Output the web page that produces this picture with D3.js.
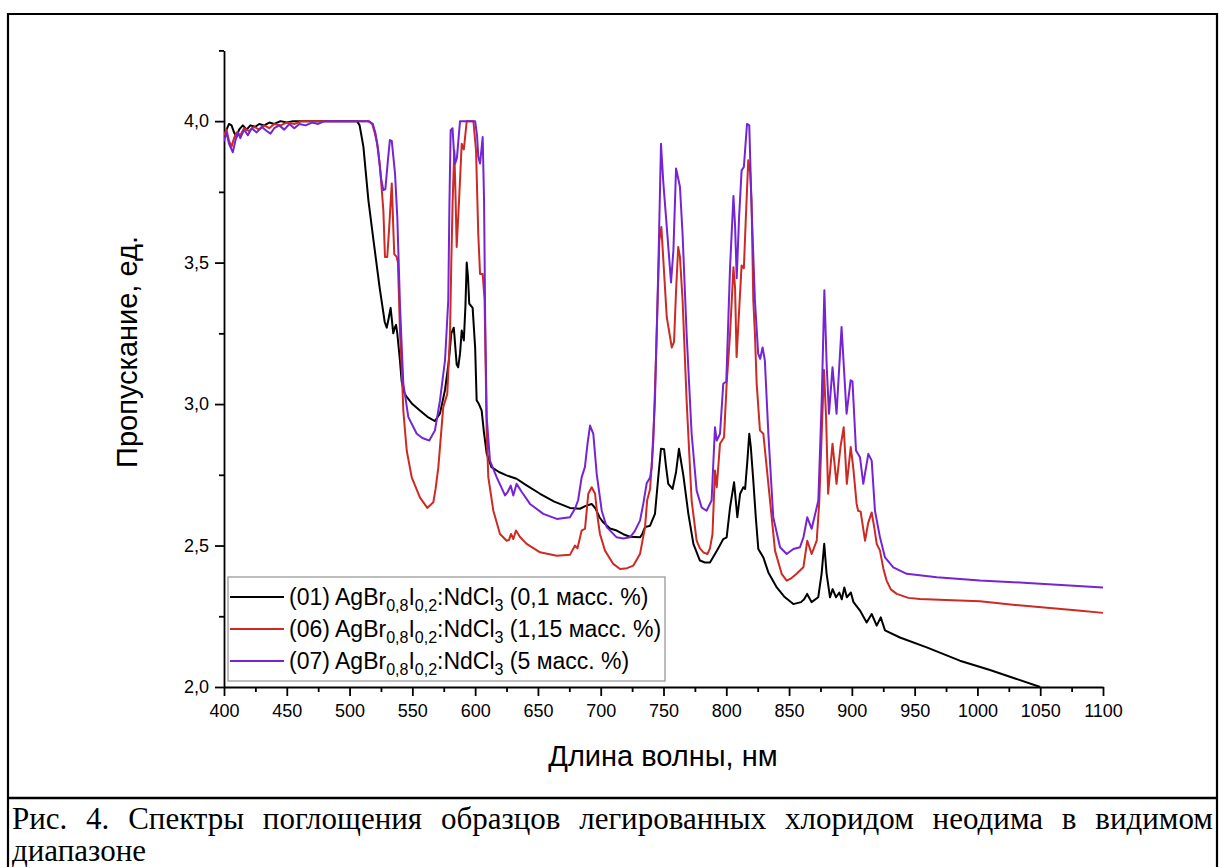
<!DOCTYPE html>
<html>
<head>
<meta charset="utf-8">
<script src="https://cdn.jsdelivr.net/npm/d3@7"></script>
<style>
  html, body { margin: 0; padding: 0; background: #fff; }
  svg { display: block; }
</style>
</head>
<body>
<svg id="fig" width="1219" height="867"></svg>
<script>
// Absorption/transmission spectra of AgBr0.8I0.2 samples doped with NdCl3
// [wavelength nm, transmission units]

const sample01 = [[400,3.95],[402,3.97],[404,3.99],[406,3.985],[408,3.96],[410,3.944],[412,3.97],[415,3.985],[418,3.97],[421,3.985],[425,3.98],[428,3.99],[432,3.985],[436,3.995],[440,3.99],[445,4.0],[450,3.995],[455,4.0],[460,4.0],[480,4.0],[500,4.0],[506,4.0],[508,3.985],[511,3.91],[515,3.72],[519,3.58],[524,3.41],[528,3.29],[529.6,3.27],[531,3.30],[532.7,3.34],[534.8,3.25],[536,3.27],[537,3.28],[538,3.25],[540,3.16],[541.5,3.08],[543.5,3.04],[545.5,3.025],[550,3.00],[556,2.977],[562,2.955],[568,2.94],[572,2.967],[576,3.05],[579,3.15],[581,3.25],[583,3.27],[585.3,3.14],[586.5,3.13],[588,3.18],[589.3,3.26],[591,3.225],[592.3,3.35],[593.3,3.50],[594.3,3.45],[595.3,3.355],[598,3.34],[600,3.20],[601.2,3.013],[603,3.00],[605.2,2.977],[607,2.90],[609.2,2.825],[613,2.777],[619,2.76],[625,2.748],[633,2.736],[640,2.715],[651.7,2.683],[663,2.655],[675.5,2.633],[683.5,2.63],[688,2.64],[692.8,2.647],[696,2.63],[699,2.60],[702,2.582],[707.4,2.56],[712.7,2.553],[718,2.54],[723.3,2.531],[731.3,2.529],[733,2.54],[735.3,2.565],[739.3,2.57],[743.2,2.612],[746,2.75],[748,2.842],[750.5,2.84],[752,2.78],[753.8,2.718],[757.2,2.70],[760,2.76],[762.3,2.842],[765.8,2.748],[769.8,2.612],[773.8,2.506],[779,2.447],[783,2.44],[787,2.44],[791,2.47],[793.6,2.49],[797.6,2.523],[800.3,2.529],[803,2.635],[806.2,2.724],[808.8,2.60],[811,2.683],[813.6,2.706],[815,2.70],[816.8,2.80],[818.3,2.895],[819.5,2.85],[821.5,2.73],[823.5,2.60],[825.5,2.488],[829.5,2.458],[833.5,2.405],[840.2,2.352],[846,2.32],[853.4,2.293],[859.5,2.30],[862,2.31],[864.4,2.329],[867.9,2.30],[873.2,2.317],[875.9,2.40],[878,2.506],[879.9,2.40],[882.6,2.317],[884.7,2.346],[887.4,2.317],[890,2.334],[892,2.31],[894,2.352],[896,2.317],[899.2,2.334],[901.3,2.30],[906.5,2.27],[909,2.25],[911.8,2.228],[915.8,2.258],[919.8,2.217],[923,2.246],[926.4,2.20],[938.3,2.175],[959.6,2.14],[986,2.093],[1010,2.06],[1030,2.03],[1050,2.0]];

const sample06 = [[400,3.95],[402,3.97],[404,3.93],[406,3.91],[408,3.94],[410,3.96],[413,3.95],[416,3.975],[420,3.965],[424,3.98],[428,3.97],[432,3.985],[436,3.975],[440,3.99],[445,3.985],[450,3.995],[456,3.99],[462,4.0],[480,4.0],[500,4.0],[515,4.0],[518,3.99],[520,3.96],[522,3.92],[524.2,3.84],[526.9,3.685],[528.2,3.52],[530,3.52],[531.5,3.62],[533.6,3.78],[535,3.6],[535.6,3.53],[537.5,3.52],[538.5,3.50],[540.2,3.25],[541.5,3.13],[542.8,2.977],[545.5,2.836],[549.5,2.741],[556,2.67],[561.9,2.633],[566.7,2.653],[568.5,2.70],[570.7,2.777],[574.6,2.989],[577.8,3.036],[580,3.249],[581,3.50],[582.1,3.72],[583.4,3.897],[584.3,3.75],[585.3,3.555],[587.2,3.72],[589.3,3.92],[591,3.90],[593.3,4.0],[598.6,4.0],[600.7,3.897],[602.5,3.60],[603.9,3.46],[606,3.46],[607.5,3.37],[608.5,3.10],[609.2,2.895],[610.5,2.741],[614.5,2.623],[619.8,2.541],[625.1,2.517],[627,2.52],[628.6,2.541],[630.4,2.523],[632.5,2.553],[635.7,2.53],[641,2.506],[651.7,2.476],[665,2.464],[675.5,2.467],[679.5,2.50],[681.5,2.49],[684.8,2.553],[687.5,2.56],[690.1,2.683],[692.8,2.706],[695.5,2.683],[697.5,2.60],[699.4,2.541],[703.4,2.482],[710,2.435],[715.4,2.417],[721,2.42],[726,2.429],[731.3,2.47],[735.3,2.565],[737,2.66],[739.3,2.70],[741.9,2.871],[744.6,3.249],[746.7,3.579],[748.3,3.626],[749.4,3.544],[752.6,3.307],[756.6,3.20],[758.4,3.22],[760,3.40],[761.7,3.555],[763.1,3.52],[765.2,3.367],[768.4,3.013],[772.4,2.659],[776.4,2.517],[779,2.49],[782,2.475],[785,2.47],[787,2.49],[789,2.54],[791,2.765],[792.4,2.706],[795,2.86],[798.2,2.883],[800.3,3.072],[803,3.249],[805.7,3.484],[807,3.41],[808.2,3.166],[810.8,3.378],[812.2,3.49],[814,3.48],[815.5,3.65],[817.5,3.862],[819,3.82],[820.1,3.72],[821.5,3.367],[822.8,3.249],[824.2,3.072],[826.8,2.907],[829.5,2.895],[833.5,2.718],[838.8,2.482],[844.1,2.40],[848.1,2.376],[852,2.385],[856,2.40],[861.4,2.423],[864.5,2.517],[868,2.47],[872,2.517],[874,2.65],[876,2.895],[877.8,3.12],[879.5,2.95],[881.1,2.683],[884.6,2.86],[887.8,2.718],[891,2.85],[893.5,2.918],[896,2.718],[899.1,2.848],[901,2.78],[903.8,2.647],[905,2.623],[907,2.62],[910.5,2.517],[913,2.58],[915.8,2.617],[918,2.56],[919.8,2.506],[922.4,2.482],[925,2.42],[927.7,2.376],[931,2.345],[935.7,2.329],[945,2.315],[954.3,2.311],[980,2.307],[1002,2.303],[1030,2.29],[1060,2.278],[1080,2.27],[1100,2.262]];

const sample07 = [[400,3.93],[402,3.96],[404,3.92],[406,3.90],[407,3.89],[409,3.93],[411,3.96],[413,3.94],[416,3.97],[419,3.95],[422,3.975],[426,3.96],[430,3.98],[434,3.965],[437,3.956],[440,3.975],[444,3.985],[448,3.97],[452,3.99],[456,3.975],[460,3.99],[465,3.985],[470,3.995],[475,3.99],[480,4.0],[500,4.0],[515,4.0],[518.5,3.99],[520.5,3.96],[522.8,3.897],[525,3.80],[526.9,3.756],[528.5,3.76],[530.5,3.86],[532.1,3.933],[533.6,3.93],[536.2,3.815],[538,3.661],[540.2,3.343],[542.8,3.072],[546.8,2.954],[553.5,2.895],[558,2.88],[563.5,2.871],[568,2.907],[572,3.013],[576,3.154],[578.6,3.367],[579.5,3.70],[580.5,3.968],[582,3.975],[583,3.90],[584,3.85],[585.5,3.87],[587,3.95],[588,4.0],[600,4.0],[601.5,3.95],[602.5,3.874],[603.9,3.85],[606,3.944],[607.1,3.72],[608,3.30],[609.2,2.954],[611.8,2.80],[617.2,2.741],[623.8,2.677],[626,2.69],[628.3,2.712],[630.4,2.677],[633,2.718],[637,2.69],[643.7,2.647],[654.3,2.612],[665,2.594],[675.5,2.60],[679.5,2.63],[682,2.66],[684.8,2.741],[687.4,2.777],[689.5,2.86],[691.5,2.924],[694.1,2.895],[696.8,2.753],[700.8,2.623],[704.8,2.565],[712.7,2.529],[718,2.525],[723.3,2.529],[727,2.55],[731.3,2.588],[734,2.65],[736.6,2.72],[739.3,2.74],[740.6,2.777],[743.2,3.013],[745.9,3.484],[748,3.92],[749.9,3.78],[752.6,3.626],[756,3.43],[757.9,3.544],[760,3.833],[763.1,3.768],[765.2,3.60],[768.4,3.249],[772.4,2.895],[776.4,2.694],[780.3,2.635],[784.3,2.623],[788.3,2.659],[791,2.918],[792.4,2.871],[795,2.895],[797.6,3.072],[800,3.08],[803,3.484],[805.7,3.735],[807,3.63],[808.3,3.445],[810.2,3.661],[812.2,3.826],[814,3.838],[816.5,3.99],[818.3,3.985],[820.1,3.70],[822.8,3.367],[825.4,3.178],[827,3.16],[828.9,3.20],[830.7,3.155],[833.5,2.895],[837.4,2.60],[842.8,2.494],[848.1,2.47],[853.4,2.488],[858.7,2.494],[861.5,2.53],[864.5,2.60],[868,2.559],[873.3,2.659],[876,3.013],[878.1,3.402],[880,3.13],[881.8,2.966],[884.6,3.13],[887.8,2.966],[891.8,3.272],[895.8,2.966],[899,3.084],[900.5,3.08],[903.3,2.836],[906.5,2.812],[909.1,2.718],[913.1,2.824],[915.8,2.80],[918.4,2.623],[922.4,2.529],[926.4,2.458],[933,2.423],[943.7,2.40],[967.6,2.388],[1002,2.376],[1040,2.368],[1070,2.36],[1100,2.352]];

const seriesNames = ["(01)", "(06)", "(07)"];
const seriesDose = ["(0,1 масс. %)", "(1,15 масс. %)", "(5 масс. %)"];
const seriesColors = ["#000000", "#cc2a22", "#7424d4"];
const xMajorTicks = [400,450,500,550,600,650,700,750,800,850,900,950,1000,1050,1100];
const xMinorTicks = [425,475,525,575,625,675,725,775,825,875,925,975,1025,1075];
const yMajorTicks = [2.0, 2.5, 3.0, 3.5, 4.0];
const yMinorTicks = [2.25, 2.75, 3.25, 3.75, 4.25];
const xTitle = "Длина волны, нм";
const yTitle = "Пропускание, ед.";
const captionLine1 = "Рис. 4. Спектры поглощения образцов легированных хлоридом неодима в видимом";
const captionLine2 = "диапазоне";

const svg = d3.select("#fig");
const sans = "'Liberation Sans', Arial, sans-serif";
const serif = "'Liberation Serif', 'Times New Roman', serif";

// page frame and caption divider
svg.append("path")
  .attr("d", "M8,867 L8,14 L1217,14 L1217,867")
  .attr("fill", "none").attr("stroke", "#000").attr("stroke-width", 2.2);
svg.append("line").attr("x1", 8).attr("x2", 1217).attr("y1", 798).attr("y2", 798)
  .attr("stroke", "#000").attr("stroke-width", 2.6);

const x = d3.scaleLinear().domain([400, 1100]).range([224, 1103]);
const y = d3.scaleLinear().domain([2.0, 4.25]).range([687, 50.4]);

const fmtY = d => d3.format(".1f")(d).replace(".", ",");

// axes
const gx = svg.append("g").attr("transform", "translate(0,687)");
gx.call(d3.axisBottom(x).tickValues(xMajorTicks).tickFormat(d3.format("d"))
  .tickSize(9).tickSizeOuter(0).tickPadding(8));
const gxm = svg.append("g").attr("transform", "translate(0,687)");
gxm.call(d3.axisBottom(x).tickValues(xMinorTicks).tickFormat("").tickSize(5).tickSizeOuter(0));
gxm.select(".domain").remove();

const gy = svg.append("g").attr("transform", "translate(224,0)");
gy.call(d3.axisLeft(y).tickValues(yMajorTicks).tickFormat(fmtY)
  .tickSize(9).tickSizeOuter(0).tickPadding(6));
const gym = svg.append("g").attr("transform", "translate(224,0)");
gym.call(d3.axisLeft(y).tickValues(yMinorTicks).tickFormat("").tickSize(5).tickSizeOuter(0));
gym.select(".domain").remove();

svg.selectAll(".domain, .tick line").attr("stroke", "#000").attr("stroke-width", 1.8);
svg.selectAll(".tick text").attr("font-family", sans).attr("font-size", 18).attr("fill", "#000");

// axis titles
svg.append("text").attr("x", 663).attr("y", 766).attr("text-anchor", "middle")
  .attr("font-family", sans).attr("font-size", 29).text(xTitle);
svg.append("text").attr("transform", "translate(137,352) rotate(-90)").attr("text-anchor", "middle")
  .attr("font-family", sans).attr("font-size", 29).text(yTitle);

// spectra
svg.append("clipPath").attr("id", "plotClip").append("rect")
  .attr("x", 224).attr("y", 40).attr("width", 890).attr("height", 647);
const line = d3.line().x(d => x(d[0])).y(d => y(d[1]));
const plot = svg.append("g").attr("clip-path", "url(#plotClip)");
[sample01, sample06, sample07].forEach((s, i) => {
  plot.append("path").datum(s).attr("d", line)
    .attr("fill", "none").attr("stroke", seriesColors[i])
    .attr("stroke-width", 2).attr("stroke-linejoin", "round");
});

// legend
const lg = svg.append("g");
lg.append("rect").attr("x", 228).attr("y", 577).attr("width", 437).attr("height", 104)
  .attr("fill", "#fff").attr("stroke", "#9a9a9a").attr("stroke-width", 1.3);
const rowY = [597, 629, 661];
seriesNames.forEach((name, i) => {
  lg.append("line").attr("x1", 230).attr("x2", 284).attr("y1", rowY[i]).attr("y2", rowY[i])
    .attr("stroke", seriesColors[i]).attr("stroke-width", 2);
  const t = lg.append("text").attr("x", 289).attr("y", rowY[i] + 8)
    .attr("font-family", sans).attr("font-size", 23).attr("fill", "#000");
  t.append("tspan").text(name + " AgBr");
  t.append("tspan").attr("font-size", 16).attr("dy", 6).text("0,8");
  t.append("tspan").attr("dy", -6).text("I");
  t.append("tspan").attr("font-size", 16).attr("dy", 6).text("0,2");
  t.append("tspan").attr("dy", -6).text(":NdCl");
  t.append("tspan").attr("font-size", 16).attr("dy", 6).text("3");
  t.append("tspan").attr("dy", -6).text(" " + seriesDose[i]);
});

// caption; first line justified across the frame
const cap1 = svg.append("text").attr("x", 12).attr("y", 829)
  .attr("font-family", serif).attr("font-size", 31).attr("fill", "#000").text(captionLine1);
const natural = cap1.node().getComputedTextLength();
const spaces = captionLine1.split(" ").length - 1;
cap1.attr("word-spacing", ((1213 - 12) - natural) / spaces);
svg.append("text").attr("x", 12).attr("y", 861)
  .attr("font-family", serif).attr("font-size", 31).attr("fill", "#000").text(captionLine2);
</script>
</body>
</html>
